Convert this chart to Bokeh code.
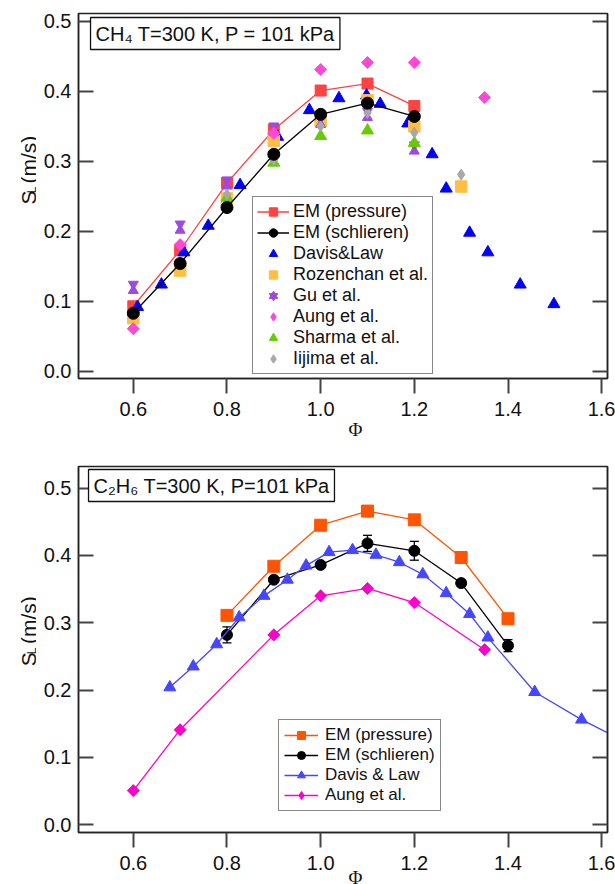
import math
from bokeh.plotting import figure
from bokeh.layouts import column, row
from bokeh.models import (Range1d, LinearAxis, Legend, LegendItem, Label, Whisker, Title,
                          ColumnDataSource, SingleIntervalTicker, PrintfTickFormatter, TeeHead)
from bokeh.embed import file_html
from bokeh.resources import INLINE

# ---------------- data: CH4 (top panel) ----------------
ch4_em_p_phi = [0.6, 0.7, 0.8, 0.9, 1.0, 1.1, 1.2]
ch4_em_p_sl = [0.093, 0.173, 0.269, 0.345, 0.401, 0.411, 0.379]
ch4_em_s_phi = [0.6, 0.7, 0.8, 0.9, 1.0, 1.1, 1.2]
ch4_em_s_sl = [0.083, 0.154, 0.234, 0.310, 0.367, 0.383, 0.364]
ch4_davis_phi = [0.609, 0.66, 0.708, 0.76, 0.828, 0.908, 0.976, 1.039, 1.098, 1.127,
                 1.186, 1.238, 1.268, 1.318, 1.357, 1.426, 1.498]
ch4_davis_sl = [0.092, 0.124, 0.170, 0.208, 0.266, 0.335, 0.373, 0.390, 0.394, 0.382,
                0.354, 0.310, 0.261, 0.198, 0.170, 0.124, 0.096]
ch4_rozen_phi = [0.6, 0.7, 0.8, 0.9, 1.0, 1.1, 1.2, 1.3]
ch4_rozen_sl = [0.076, 0.144, 0.247, 0.329, 0.358, 0.387, 0.350, 0.264]
ch4_gu_phi = [0.6, 0.7, 0.8, 0.9, 1.0, 1.1, 1.2]
ch4_gu_sl = [0.120, 0.206, 0.269, 0.346, 0.357, 0.367, 0.319]
ch4_aung_phi = [0.6, 0.7, 0.9, 1.0, 1.1, 1.2, 1.35]
ch4_aung_sl = [0.061, 0.181, 0.340, 0.431, 0.441, 0.441, 0.391]
ch4_sharma_phi = [0.8, 0.9, 1.0, 1.1, 1.2]
ch4_sharma_sl = [0.248, 0.298, 0.336, 0.344, 0.326]
ch4_iijima_phi = [0.8, 0.9, 1.0, 1.1, 1.2, 1.3]
ch4_iijima_sl = [0.253, 0.302, 0.350, 0.369, 0.341, 0.281]

# ---------------- data: C2H6 (bottom panel) ----------------
c2_em_p_phi = [0.8, 0.9, 1.0, 1.1, 1.2, 1.3, 1.4]
c2_em_p_sl = [0.311, 0.384, 0.445, 0.466, 0.453, 0.397, 0.306]
c2_em_s_phi = [0.8, 0.9, 1.0, 1.1, 1.2, 1.3, 1.4]
c2_em_s_sl = [0.282, 0.364, 0.386, 0.418, 0.407, 0.359, 0.266]
c2_em_s_err = [0.012, 0.004, 0.004, 0.012, 0.014, 0.004, 0.009]
c2_davis_phi = [0.678, 0.728, 0.778, 0.826, 0.879, 0.929, 0.969, 1.018, 1.068, 1.118,
                1.168, 1.218, 1.268, 1.318, 1.357, 1.457, 1.557, 1.66]
c2_davis_sl = [0.204, 0.235, 0.268, 0.308, 0.340, 0.364, 0.385, 0.405, 0.408, 0.401,
               0.390, 0.372, 0.344, 0.313, 0.278, 0.197, 0.156, 0.120]
c2_aung_phi = [0.6, 0.7, 0.9, 1.0, 1.1, 1.2, 1.35]
c2_aung_sl = [0.0505, 0.141, 0.282, 0.340, 0.351, 0.330, 0.260]

top_labels = ["EM (pressure)", "EM (schlieren)", "Davis&Law", "Rozenchan et al.",
              "Gu et al.", "Aung et al.", "Sharma et al.", "Iijima et al."]
bot_labels = ["EM (pressure)", "EM (schlieren)", "Davis & Law", "Aung et al."]
top_title = "CH\u2084 T=300 K, P = 101 kPa"
bot_title = "C\u2082H\u2086 T=300 K, P=101 kPa"
x_label = "\u03a6"
y_label_parts = ["S", "L", "(m/s)"]

# ---------------- layout / style ----------------
FONT = "Liberation Sans"
SERIF = "Liberation Serif"
STRIP_W = 36
W = 579
FRAME_LEFT_PAGE = 78
X0, X1 = 0.483, 1.6124
PXX = 467.5              # px per unit phi

TOP_H, TOP_FT, TOP_FH = 455, 13, 365
TOP_Y0, TOP_Y1 = -0.0101, 0.511
BOT_H, BOT_FT, BOT_FH = 429, 11, 366
BOT_Y0, BOT_Y1 = -0.0118, 0.5323
PAGE_TOP1 = 0
PAGE_TOP2 = TOP_H


def make_fig(h, ft, fh, y0, y1):
    p = figure(width=W, height=h, output_backend="svg", toolbar_location=None,
               x_range=Range1d(X0, X1), y_range=Range1d(y0, y1),
               min_border_left=FRAME_LEFT_PAGE - STRIP_W, min_border_right=8,
               min_border_top=ft, min_border_bottom=h - ft - fh)
    p.xgrid.grid_line_color = None
    p.ygrid.grid_line_color = None
    p.outline_line_color = "#222222"
    p.outline_line_width = 1.5
    p.background_fill_color = "white"
    p.border_fill_color = "white"

    yax = p.yaxis[0]
    yax.ticker = SingleIntervalTicker(interval=0.1, num_minor_ticks=0)
    yax.formatter = PrintfTickFormatter(format="%.1f")
    yax.major_tick_in = 15
    yax.major_tick_out = 0
    yax.major_label_standoff = 7
    xax = p.xaxis[0]
    xax.ticker = SingleIntervalTicker(interval=0.2, num_minor_ticks=0)
    xax.formatter = PrintfTickFormatter(format="%.1f")
    xax.major_tick_in = 0
    xax.major_tick_out = 15
    xax.major_label_standoff = 8
    rax = LinearAxis(ticker=SingleIntervalTicker(interval=0.1, num_minor_ticks=0),
                     major_tick_in=15, major_tick_out=0, major_label_standoff=0)
    p.add_layout(rax, "right")
    for ax in (xax, yax, rax):
        ax.axis_line_color = "#222222"
        ax.axis_line_width = 1.5
        ax.major_tick_line_color = "#444444"
        ax.major_tick_line_width = 2
        ax.minor_tick_line_color = None
        ax.major_label_text_font = FONT
        ax.major_label_text_font_size = "20px"
        ax.major_label_text_color = "#111111"
    rax.major_label_text_font_size = "1px"
    rax.major_label_text_alpha = 0.0
    return p


def make_strip(h, page_top, s_base_y):
    s = figure(width=STRIP_W, height=h, output_backend="svg", toolbar_location=None,
               x_range=Range1d(0, STRIP_W), y_range=Range1d(h, 0),
               x_axis_type=None, y_axis_type=None, min_border=0)
    s.outline_line_color = None
    s.xgrid.visible = False
    s.ygrid.visible = False
    txt = dict(text_font=FONT, text_color="#111111", angle=math.pi / 2,
               text_align="left", text_baseline="alphabetic")
    yb = s_base_y - page_top
    s.add_layout(Label(x=28, y=yb, text=y_label_parts[0], text_font_size="21px", **txt))
    s.add_layout(Label(x=31, y=yb - 14, text=y_label_parts[1], text_font_size="12px", **txt))
    s.add_layout(Label(x=28, y=yb - 26, text=y_label_parts[2], text_font_size="21px", **txt))
    return s


def add_texts(p, xd, yd, title, title_xy, phi_standoff):
    p.add_layout(Title(text=x_label, align="left", offset=270, standoff=phi_standoff,
                       text_font=SERIF, text_font_size="19px", text_font_style="normal",
                       text_color="#111111"), "below")
    p.add_layout(Label(x=xd(title_xy[0]), y=yd(title_xy[1]), text=title, text_font=FONT,
                       text_font_size="20px", text_align="left", text_baseline="top",
                       text_color="#111111", padding=5, border_line_color="#111111",
                       border_line_width=1.3, background_fill_color="white"))


def xd(px):
    return X0 + (px - FRAME_LEFT_PAGE) / PXX


def yconv(page_top, ft, fh, y0, y1):
    def yd(py):
        return y1 - (py - page_top - ft) * (y1 - y0) / fh
    return yd


# ================= top panel =================
p1 = make_fig(TOP_H, TOP_FT, TOP_FH, TOP_Y0, TOP_Y1)
yd1 = yconv(PAGE_TOP1, TOP_FT, TOP_FH, TOP_Y0, TOP_Y1)

C_RED = "#FF4242"
C_BLUE = "#0000FF"
C_ORANGE = "#FFBE45"
C_GU = "#9B4BDD"
C_PINK = "#FF48D8"
C_GREEN = "#66CC00"
C_GRAY = "#A8A8A8"

r_p_line = p1.line(ch4_em_p_phi, ch4_em_p_sl, line_color=C_RED, line_width=1.3)
r_p_mk = p1.scatter(ch4_em_p_phi, ch4_em_p_sl, marker="square", size=11, color=C_RED)
r_dav = p1.scatter(ch4_davis_phi, ch4_davis_sl, marker="triangle", size=12, color=C_BLUE)
r_roz = p1.scatter(ch4_rozen_phi, ch4_rozen_sl, marker="square", size=11.5, color=C_ORANGE)

d_top = 3.2 * (TOP_Y1 - TOP_Y0) / TOP_FH
p1.extra_y_ranges = {"gu_up": Range1d(TOP_Y0 - d_top, TOP_Y1 - d_top),
                     "gu_dn": Range1d(TOP_Y0 + d_top, TOP_Y1 + d_top)}
r_gu1 = p1.scatter(ch4_gu_phi, ch4_gu_sl, marker="inverted_triangle", size=10, color=C_GU,
                   y_range_name="gu_up")
r_gu2 = p1.scatter(ch4_gu_phi, ch4_gu_sl, marker="triangle", size=10, color=C_GU,
                   y_range_name="gu_dn")
r_sha = p1.scatter(ch4_sharma_phi, ch4_sharma_sl, marker="triangle", size=12, color=C_GREEN)
r_iij = p1.scatter(ch4_iijima_phi, ch4_iijima_sl, marker="diamond", size=11, color=C_GRAY)
# narrow diamond hidden under the rotated square: gives the legend its diamond key
r_aung_key = p1.scatter(ch4_aung_phi, ch4_aung_sl, marker="diamond", size=11, color=C_PINK)
r_aung = p1.scatter(ch4_aung_phi, ch4_aung_sl, marker="square", angle=math.pi / 4, size=8.5,
                    color=C_PINK)
r_s_line = p1.line(ch4_em_s_phi, ch4_em_s_sl, line_color="black", line_width=1.3)
r_s_mk = p1.scatter(ch4_em_s_phi, ch4_em_s_sl, marker="circle", size=12, color="black")

leg1 = Legend(items=[
    LegendItem(label=top_labels[0], renderers=[r_p_line, r_p_mk]),
    LegendItem(label=top_labels[1], renderers=[r_s_line, r_s_mk]),
    LegendItem(label=top_labels[2], renderers=[r_dav]),
    LegendItem(label=top_labels[3], renderers=[r_roz]),
    LegendItem(label=top_labels[4], renderers=[r_gu1, r_gu2]),
    LegendItem(label=top_labels[5], renderers=[r_aung_key]),
    LegendItem(label=top_labels[6], renderers=[r_sha]),
    LegendItem(label=top_labels[7], renderers=[r_iij]),
], location=(174, 4), label_text_font=FONT, label_text_font_size="18px",
    label_text_color="#111111", glyph_width=32, glyph_height=21, label_height=21,
    label_standoff=4, spacing=0, padding=4, margin=0, border_line_color="#111111",
    border_line_width=1.3, background_fill_alpha=1.0)
p1.add_layout(leg1)
add_texts(p1, xd, yd1, top_title, (90, 17), -3)
s1 = make_strip(TOP_H, PAGE_TOP1, 238)

# ================= bottom panel =================
p2 = make_fig(BOT_H, BOT_FT, BOT_FH, BOT_Y0, BOT_Y1)
yd2 = yconv(PAGE_TOP2, BOT_FT, BOT_FH, BOT_Y0, BOT_Y1)

C2_OR = "#FF5500"
C2_BLUE = "#4646FF"
C2_MAG = "#FF00CC"

r2_a_line = p2.line(c2_aung_phi, c2_aung_sl, line_color=C2_MAG, line_width=1.3)
r2_a_key = p2.scatter(c2_aung_phi, c2_aung_sl, marker="diamond", size=11, color=C2_MAG)
r2_a_mk = p2.scatter(c2_aung_phi, c2_aung_sl, marker="square", angle=math.pi / 4, size=8.5,
                     color=C2_MAG)
r2_p_line = p2.line(c2_em_p_phi, c2_em_p_sl, line_color=C2_OR, line_width=1.3)
r2_p_mk = p2.scatter(c2_em_p_phi, c2_em_p_sl, marker="square", size=12, color=C2_OR)

err_src = ColumnDataSource(data=dict(
    x=c2_em_s_phi,
    upper=[v + e for v, e in zip(c2_em_s_sl, c2_em_s_err)],
    lower=[v - e for v, e in zip(c2_em_s_sl, c2_em_s_err)]))
wh = Whisker(base="x", upper="upper", lower="lower", source=err_src, line_color="black",
             line_width=1.3,
             upper_head=TeeHead(size=9, line_color="black", line_width=1.3),
             lower_head=TeeHead(size=9, line_color="black", line_width=1.3))
p2.add_layout(wh)
r2_s_line = p2.line(c2_em_s_phi, c2_em_s_sl, line_color="black", line_width=1.3)
r2_s_mk = p2.scatter(c2_em_s_phi, c2_em_s_sl, marker="circle", size=11, color="black")
r2_d_line = p2.line(c2_davis_phi, c2_davis_sl, line_color=C2_BLUE, line_width=1.3)
r2_d_mk = p2.scatter(c2_davis_phi, c2_davis_sl, marker="triangle", size=12, color=C2_BLUE)

leg2 = Legend(items=[
    LegendItem(label=bot_labels[0], renderers=[r2_p_line, r2_p_mk]),
    LegendItem(label=bot_labels[1], renderers=[r2_s_line, r2_s_mk]),
    LegendItem(label=bot_labels[2], renderers=[r2_d_line, r2_d_mk]),
    LegendItem(label=bot_labels[3], renderers=[r2_a_line, r2_a_key]),
], location=(200, 21), label_text_font=FONT, label_text_font_size="17px",
    label_text_color="#111111", glyph_width=34, glyph_height=20, label_height=20,
    label_standoff=7, spacing=0, padding=5, margin=0, border_line_color="#111111",
    border_line_width=1.3, background_fill_alpha=1.0)
p2.add_layout(leg2)
add_texts(p2, xd, yd2, bot_title, (88, 469), -16)
s2 = make_strip(BOT_H, PAGE_TOP2, 689)

layout = column(row(s1, p1), row(s2, p2))
open("out.html", "w").write(file_html(layout, INLINE))
